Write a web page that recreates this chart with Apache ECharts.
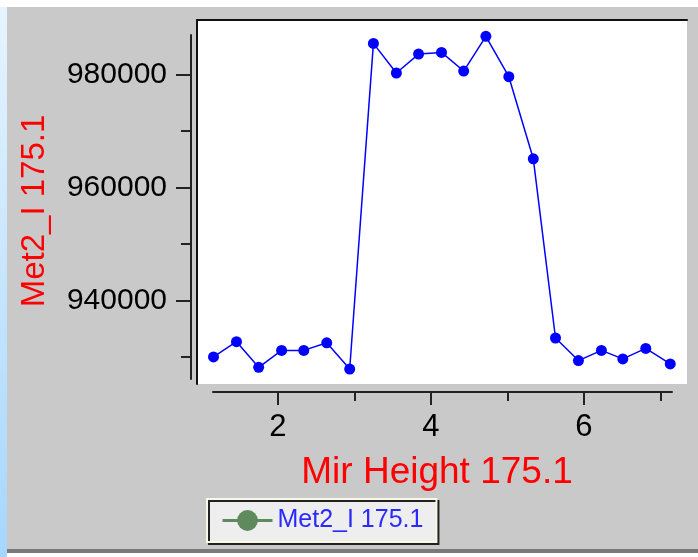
<!DOCTYPE html>
<html>
<head>
<meta charset="utf-8">
<script src="https://cdn.jsdelivr.net/npm/echarts@6/dist/echarts.min.js"></script>
<style>
  html, body { margin: 0; padding: 0; background: #ffffff; }
  #wrap { position: relative; width: 698px; height: 557px; overflow: hidden; background: #ffffff; }
  #strip { position: absolute; left: 0; top: 7px; width: 7px; height: 550px; background: linear-gradient(#e6f4ff, #a6d6ff); }
  #panel { position: absolute; left: 7px; top: 7px; width: 691px; height: 542px; background: #c9c9c9; border-bottom: 4px solid #7a7a7a; }
  #chart { position: absolute; left: 0; top: 0; width: 698px; height: 557px; }
</style>
</head>
<body>
<div id="wrap">
  <div id="strip"></div>
  <div id="panel"></div>
  <div id="chart"></div>
</div>
<script>
// ---- data ----
const xValues = [1.16, 1.46, 1.75, 2.05, 2.34, 2.64, 2.94, 3.25, 3.55, 3.84, 4.14, 4.43, 4.72, 5.02, 5.34, 5.63, 5.93, 6.23, 6.51, 6.81, 7.13];
const yValues = [930000, 932700, 928150, 931150, 931150, 932500, 927850, 985550, 980300, 983650, 983950, 980650, 986800, 979650, 965100, 933350, 929350, 931150, 929650, 931500, 928750];
const seriesName = 'Met2_I 175.1';
const xAxisName = 'Mir Height 175.1';
const yAxisName = 'Met2_I 175.1';
const xMajorTicks = [2, 4, 6];
const xMinorTicks = [3, 5, 7];
const yMajorTicks = [940000, 960000, 980000];
const yMinorTicks = [930000, 950000, 970000];

const points = xValues.map((x, i) => [x, yValues[i]]);
const font = 'Liberation Sans, Arial, sans-serif';

const chart = echarts.init(document.getElementById('chart'), null, { renderer: 'canvas' });
const option = {
  backgroundColor: 'transparent',
  animation: false,
  grid: [
    // plot area
    { left: 197, top: 20, width: 490, height: 364, show: true, backgroundColor: '#ffffff', borderWidth: 0 },
    // visible x axis
    { left: 213, width: 459, top: 300, height: 92, show: false },
    // visible y axis
    { left: 191, width: 100, top: 35, height: 344, show: false }
  ],
  xAxis: [
    { gridIndex: 0, type: 'value', min: 0.944, max: 7.349, position: 'top',
      axisLine: { show: true, lineStyle: { color: '#111', width: 2 } },
      axisTick: { show: false }, axisLabel: { show: false }, splitLine: { show: false } },
    { gridIndex: 1, type: 'value', min: 1.153, max: 7.153, position: 'bottom',
      name: xAxisName, nameLocation: 'middle', nameGap: 62,
      nameTextStyle: { color: '#ff0000', fontSize: 37, fontFamily: font, padding: [0, 11, 0, 0] },
      axisLine: { show: true, lineStyle: { color: '#222', width: 2 } },
      axisTick: { show: true, customValues: xMajorTicks, length: 13, inside: false, lineStyle: { color: '#222', width: 2 } },
      axisLabel: { show: true, customValues: xMajorTicks, margin: 20, color: '#000', fontSize: 31, fontFamily: font },
      splitLine: { show: false } },
    { gridIndex: 1, type: 'value', min: 1.153, max: 7.153, position: 'bottom',
      axisLine: { show: false },
      axisTick: { show: true, customValues: xMinorTicks, length: 9, lineStyle: { color: '#222', width: 2 } },
      axisLabel: { show: false }, splitLine: { show: false } },
    { gridIndex: 2, type: 'value', min: 0, max: 1, show: false }
  ],
  yAxis: [
    { gridIndex: 0, type: 'value', min: 925199, max: 989692, position: 'left',
      axisLine: { show: true, lineStyle: { color: '#111', width: 2 } },
      axisTick: { show: false }, axisLabel: { show: false }, splitLine: { show: false } },
    { gridIndex: 1, type: 'value', min: 0, max: 1, show: false },
    { gridIndex: 2, type: 'value', min: 926084, max: 987034, position: 'left',
      name: yAxisName, nameLocation: 'middle', nameGap: 140, nameRotate: 90,
      nameTextStyle: { color: '#ff0000', fontSize: 33, fontFamily: font, padding: [0, 8, 0, 0] },
      axisLine: { show: true, lineStyle: { color: '#222', width: 2 } },
      axisTick: { show: true, customValues: yMajorTicks, length: 15, lineStyle: { color: '#222', width: 2 } },
      axisLabel: { show: true, customValues: yMajorTicks, margin: 24, color: '#000', fontSize: 30, fontFamily: font,
        formatter: v => String(v) },
      splitLine: { show: false } },
    { gridIndex: 2, type: 'value', min: 926084, max: 987034, position: 'left',
      axisLine: { show: false },
      axisTick: { show: true, customValues: yMinorTicks, length: 10, lineStyle: { color: '#222', width: 2 } },
      axisLabel: { show: false }, splitLine: { show: false } }
  ],
  legend: {
    left: 207, top: 499,
    padding: [9, 13, 9, 14],
    itemWidth: 50, itemHeight: 26, itemGap: 6,
    backgroundColor: '#eeeeee',
    borderColor: '#f8f8e4', borderWidth: 2,
    shadowColor: '#222', shadowOffsetX: 2, shadowOffsetY: 2, shadowBlur: 0,
    textStyle: { color: '#2a2aff', fontSize: 25, fontFamily: font, padding: [2, 0, 0, 0] },
    data: [{ name: seriesName, itemStyle: { color: '#5e8a5e' }, lineStyle: { color: '#5e8a5e', width: 3 } }]
  },
  series: [{
    name: seriesName,
    type: 'line',
    xAxisIndex: 0, yAxisIndex: 0,
    data: points,
    symbol: 'circle', symbolSize: 11,
    lineStyle: { color: '#0000ff', width: 1.5 },
    itemStyle: { color: '#0000ff' }
  }]
};
chart.setOption(option);
</script>
</body>
</html>
